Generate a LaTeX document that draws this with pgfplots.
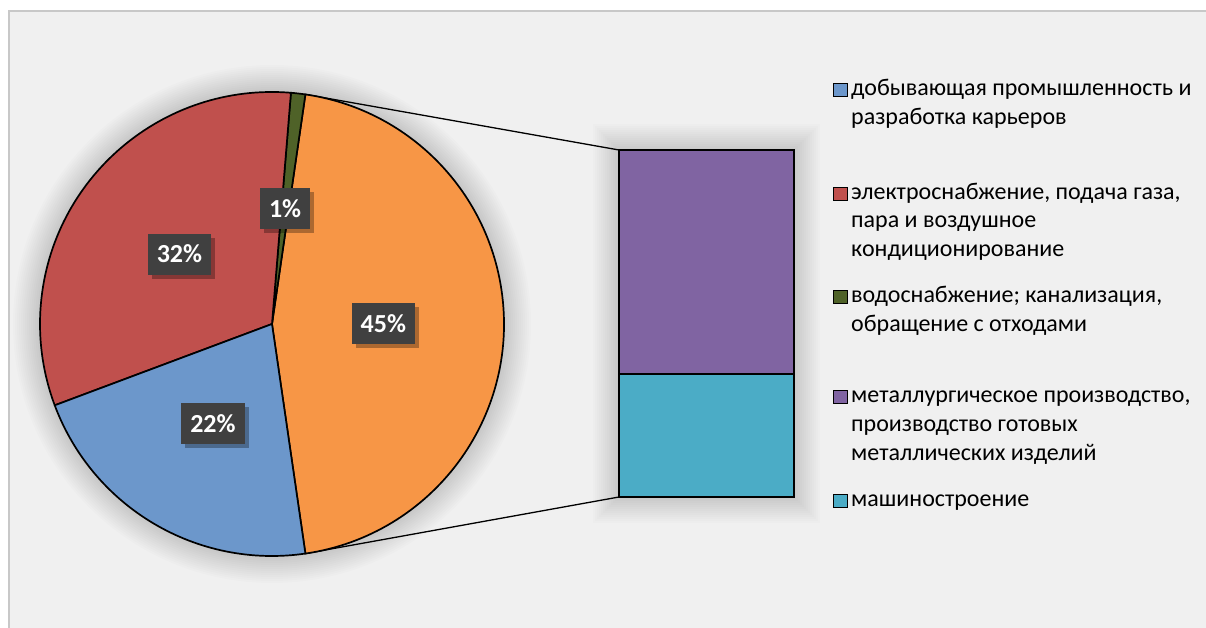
\documentclass[border=0pt]{standalone}
\usepackage{pgfplots}
\pgfplotsset{compat=1.18}
\usepackage{fontspec}
\setmainfont{Carlito}
\usetikzlibrary{shadows}
\definecolor{cBlue}{RGB}{108,151,203}
\definecolor{cRed}{RGB}{192,80,77}
\definecolor{cGreen}{RGB}{79,98,40}
\definecolor{cOrange}{RGB}{247,150,70}
\definecolor{cPurple}{RGB}{128,100,162}
\definecolor{cAqua}{RGB}{75,172,198}
\definecolor{cLbl}{RGB}{64,64,64}
\definecolor{cBg}{RGB}{240,240,240}
\definecolor{cFrame}{RGB}{200,200,200}
% data (percent)
\def\vMine{21.6}
\def\vElec{32.0}
\def\vWater{1.0}
\def\vMetal{29.3}
\def\vMach{16.1}
\begin{document}
\begin{tikzpicture}[x=1pt,y=1pt,
  lbl/.style={fill=cLbl, text=white, font=\bfseries\fontsize{26}{26}\selectfont,
    minimum height=41pt, inner xsep=9pt, inner ysep=0pt,
    drop shadow={shadow xshift=4pt, shadow yshift=-4pt, opacity=0.3, fill=black}},
  leg/.style={anchor=base west, inner sep=0pt, font=\fontsize{24}{29}\selectfont, text=black},
  mk/.style={draw=black, line width=1pt}]
\pgfmathsetmacro\vOther{\vMetal+\vMach}
\pgfmathsetmacro\aA{-\vOther*1.8}
\pgfmathsetmacro\aB{\vOther*1.8}
\pgfmathsetmacro\aC{\aB+\vWater*3.6}
\pgfmathsetmacro\aD{\aC+\vElec*3.6}
\pgfmathsetmacro\aE{\aD+\vMine*3.6}
\pgfmathsetmacro\mW{(\aB+\aC)/2}
\pgfmathsetmacro\mR{(\aC+\aD)/2}
\pgfmathsetmacro\mM{(\aD+\aE)/2}
\useasboundingbox (0pt,0pt) rectangle (1206pt,628pt);
\fill[white] (0pt,0pt) rectangle (1206pt,628pt);
\fill[cBg] (9pt,-20pt) rectangle (1230pt,617pt);
\draw[cFrame, line width=1.5pt] (9pt,-20pt) -- (9pt,617pt) -- (1230pt,617pt);
% soft halos
\foreach \r in {233,235,...,259} \fill[black,opacity=0.011] (272pt,304pt) circle (\r pt);
\foreach \e in {2,4,...,26} \fill[black,opacity=0.011] ({(619-\e)*1pt},{(131-\e)*1pt}) rectangle ({(794+\e)*1pt},{(478+\e)*1pt});
% connectors
\draw[black, line width=1.3pt] ({(272+232*cos(\aB))*1pt},{(304+232*sin(\aB))*1pt}) -- (619pt,478pt);
\draw[black, line width=1.3pt] ({(272+232*cos(\aA))*1pt},{(304+232*sin(\aA))*1pt}) -- (619pt,131pt);
% pie
\begin{axis}[at={(272pt,304pt)}, anchor=center, width=464pt, height=464pt, scale only axis,
  xmin=-1, xmax=1, ymin=-1, ymax=1, hide axis, clip=false]
\filldraw[fill=cOrange, draw=black, line width=1.7pt, line join=round] (axis cs:0,0) -- (axis cs:{cos(\aA)},{sin(\aA)}) arc[start angle=\aA, end angle=\aB, radius=232pt] -- cycle;
\filldraw[fill=cGreen, draw=black, line width=1.7pt, line join=round] (axis cs:0,0) -- (axis cs:{cos(\aB)},{sin(\aB)}) arc[start angle=\aB, end angle=\aC, radius=232pt] -- cycle;
\filldraw[fill=cRed, draw=black, line width=1.7pt, line join=round] (axis cs:0,0) -- (axis cs:{cos(\aC)},{sin(\aC)}) arc[start angle=\aC, end angle=\aD, radius=232pt] -- cycle;
\filldraw[fill=cBlue, draw=black, line width=1.7pt, line join=round] (axis cs:0,0) -- (axis cs:{cos(\aD)},{sin(\aD)}) arc[start angle=\aD, end angle=\aE, radius=232pt] -- cycle;
\node[lbl] at (axis cs:0.48,0) {45\%};
\node[lbl] at (axis cs:{0.5*cos(\mW)},{0.5*sin(\mW)}) {1\%};
\node[lbl] at (axis cs:{0.5*cos(\mR)},{0.5*sin(\mR)}) {32\%};
\node[lbl] at (axis cs:{0.5*cos(\mM)},{0.5*sin(\mM)}) {22\%};
\end{axis}
% bar
\begin{axis}[at={(619pt,131pt)}, anchor=south west, width=175pt, height=347pt, scale only axis,
  xmin=0, xmax=1, ymin=0, ymax=45.4, hide axis, clip=false, ybar stacked, bar width=175pt]
\addplot[fill=cAqua, draw=black, line width=1.7pt] coordinates {(0.5,16.1)};
\addplot[fill=cPurple, draw=black, line width=1.7pt] coordinates {(0.5,29.3)};
\node[lbl] at (axis cs:0.5,8.05) {16\%};
\node[lbl] at (axis cs:0.5,30.75) {29\%};
\end{axis}
% legend
\fill[cBlue,mk] (833pt,531pt) rectangle (847pt,544pt);
\node[leg] at (851pt,532pt) {добывающая промышленность и};
\node[leg] at (851pt,503pt) {разработка карьеров};
\fill[cRed,mk] (833pt,427pt) rectangle (847pt,440pt);
\node[leg] at (851pt,428pt) {электроснабжение, подача газа,};
\node[leg] at (851pt,400pt) {пара и воздушное};
\node[leg] at (851pt,371pt) {кондиционирование};
\fill[cGreen,mk] (833pt,324pt) rectangle (847pt,337pt);
\node[leg] at (851pt,325pt) {водоснабжение; канализация,};
\node[leg] at (851pt,296pt) {обращение с отходами};
\fill[cPurple,mk] (833pt,224pt) rectangle (847pt,237pt);
\node[leg] at (851pt,225pt) {металлургическое производство,};
\node[leg] at (851pt,196pt) {производство готовых};
\node[leg] at (851pt,167pt) {металлических изделий};
\fill[cAqua,mk] (833pt,120pt) rectangle (847pt,133pt);
\node[leg] at (851pt,121pt) {машиностроение};
\end{tikzpicture}
\end{document}
